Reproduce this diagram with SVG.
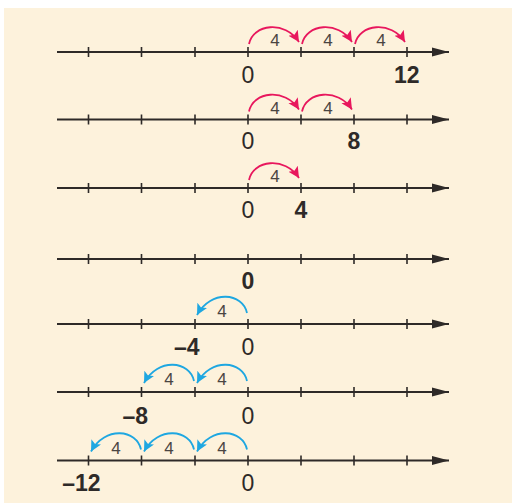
<svg xmlns="http://www.w3.org/2000/svg" width="512" height="503" viewBox="0 0 512 503">
<defs>
<style>
.axis{stroke:#2e2a28;stroke-width:2;fill:none}
.tick{stroke:#2e2a28;stroke-width:1.6}
.num{font-family:"Liberation Sans Narrow","Arial Narrow","Liberation Sans",Arial,sans-serif;font-size:23px;fill:#2e2a28;text-anchor:middle}
.b{font-weight:bold}
.step{font-family:"Liberation Sans Narrow","Arial Narrow","Liberation Sans",Arial,sans-serif;font-size:17px;fill:#4a4542;text-anchor:middle}
.red{stroke:#e8175d;stroke-width:1.8;fill:none;marker-end:url(#ar)}
.blue{stroke:#1ea7e1;stroke-width:1.8;fill:none;marker-end:url(#ab)}
</style>
<marker id="ah" markerUnits="userSpaceOnUse" markerWidth="20" markerHeight="12" refX="17" refY="6" orient="auto"><path d="M0,1.5 L17,6 L0,10.5 Z" fill="#2e2a28"/></marker>
<marker id="ar" markerUnits="userSpaceOnUse" markerWidth="13" markerHeight="12" refX="11" refY="5.5" orient="auto"><path d="M0,0 L11,5.5 L0,11 L2.5,5.5 Z" fill="#e8175d"/></marker>
<marker id="ab" markerUnits="userSpaceOnUse" markerWidth="13" markerHeight="12" refX="11" refY="5.5" orient="auto"><path d="M0,0 L11,5.5 L0,11 L2.5,5.5 Z" fill="#1ea7e1"/></marker>
<g id="ticks"><path class="tick" d="M88.5,-5V5M141.5,-5V5M195,-5V5M248,-5V5M301,-5V5M354,-5V5M407,-5V5"/></g>
</defs>
<rect x="4" y="8" width="508" height="495" fill="#fdf2dc"/>

<g id="line1">
<path class="axis" d="M57,52H449" marker-end="url(#ah)"/>
<use href="#ticks" y="52"/>
<text class="num" x="248" y="82.5">0</text>
<text class="num b" x="406.7" y="82.5">12</text>
</g>
<g id="line2">
<path class="axis" d="M57,119.5H449" marker-end="url(#ah)"/>
<use href="#ticks" y="119.5"/>
<text class="num" x="248" y="149">0</text>
<text class="num b" x="354" y="149">8</text>
</g>
<g id="line3">
<path class="axis" d="M57,188H449" marker-end="url(#ah)"/>
<use href="#ticks" y="188"/>
<text class="num" x="248" y="218">0</text>
<text class="num b" x="301" y="218">4</text>
</g>
<g id="line4">
<path class="axis" d="M57,259H449" marker-end="url(#ah)"/>
<use href="#ticks" y="259"/>
<text class="num b" x="248" y="289">0</text>
</g>
<g id="line5">
<path class="axis" d="M57,324H449" marker-end="url(#ah)"/>
<use href="#ticks" y="324"/>
<text class="num b" x="199.5" y="354.5" style="text-anchor:end">–4</text>
<text class="num" x="248" y="354.5">0</text>
</g>
<g id="line6">
<path class="axis" d="M57,392H449" marker-end="url(#ah)"/>
<use href="#ticks" y="392"/>
<text class="num b" x="148" y="423.5" style="text-anchor:end">–8</text>
<text class="num" x="248" y="423.5">0</text>
</g>
<g id="line7">
<path class="axis" d="M57,460.5H449" marker-end="url(#ah)"/>
<use href="#ticks" y="460.5"/>
<text class="num b" x="100.5" y="490.5" style="text-anchor:end">–12</text>
<text class="num" x="248" y="490.5">0</text>
</g>

<g id="connectors">
<path class="red" d="M249,44 C253,24 285,20 299,42"/>
<path class="red" d="M302,44 C306,24 338,20 352,42"/>
<path class="red" d="M355,44 C359,24 391,20 405,42"/>
<path class="red" d="M249,111.5 C253,91.5 285,87.5 299,109.5"/>
<path class="red" d="M302,111.5 C306,91.5 338,87.5 352,109.5"/>
<path class="red" d="M249,180 C253,160 285,156 299,178"/>
<path class="blue" d="M247,313 C243,293 211,289 197,315"/>
<path class="blue" d="M247,381 C243,361 211,357 197,383"/>
<path class="blue" d="M194,381 C190,361 158,357 144,383"/>
<path class="blue" d="M247,449.5 C243,429.5 211,425.5 197,451.5"/>
<path class="blue" d="M194,449.5 C190,429.5 158,425.5 144,451.5"/>
<path class="blue" d="M141,449.5 C137,429.5 105,425.5 91,451.5"/>
</g>
<g id="step-labels">
<text class="step" x="275" y="46">4</text>
<text class="step" x="328" y="46">4</text>
<text class="step" x="381" y="46">4</text>
<text class="step" x="275" y="113.5">4</text>
<text class="step" x="328" y="113.5">4</text>
<text class="step" x="275" y="182">4</text>
<text class="step" x="222" y="317">4</text>
<text class="step" x="222" y="385">4</text>
<text class="step" x="169" y="385">4</text>
<text class="step" x="222" y="453.5">4</text>
<text class="step" x="169" y="453.5">4</text>
<text class="step" x="116" y="453.5">4</text>
</g>
</svg>
